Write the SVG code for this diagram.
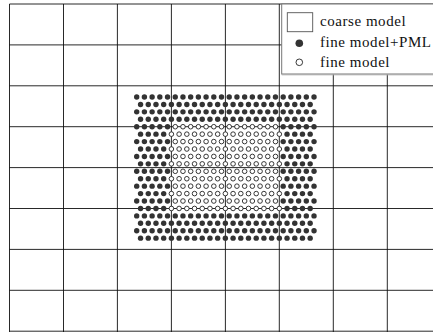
<svg xmlns="http://www.w3.org/2000/svg" xmlns:xlink="http://www.w3.org/1999/xlink" width="433" height="332" viewBox="0 0 433 332">
<style>
.g{stroke:#111;stroke-width:0.9;fill:none}
.f{fill:#333}
.o{fill:#fff;stroke:#222;stroke-width:0.9}
.t{font-family:"Liberation Serif","Times New Roman",serif;font-size:15px;letter-spacing:0.55px;fill:#111}
</style>
<defs>
<g id="evenFull">
<circle class="f" r="2.7" cx="136.70"/><circle class="f" r="2.7" cx="144.41"/><circle class="f" r="2.7" cx="152.12"/><circle class="f" r="2.7" cx="159.83"/><circle class="f" r="2.7" cx="167.54"/><circle class="f" r="2.7" cx="175.25"/><circle class="f" r="2.7" cx="182.96"/><circle class="f" r="2.7" cx="190.67"/><circle class="f" r="2.7" cx="198.38"/><circle class="f" r="2.7" cx="206.09"/><circle class="f" r="2.7" cx="213.80"/><circle class="f" r="2.7" cx="221.51"/><circle class="f" r="2.7" cx="229.22"/><circle class="f" r="2.7" cx="236.93"/><circle class="f" r="2.7" cx="244.64"/><circle class="f" r="2.7" cx="252.35"/><circle class="f" r="2.7" cx="260.06"/><circle class="f" r="2.7" cx="267.77"/><circle class="f" r="2.7" cx="275.48"/><circle class="f" r="2.7" cx="283.19"/><circle class="f" r="2.7" cx="290.90"/><circle class="f" r="2.7" cx="298.61"/><circle class="f" r="2.7" cx="306.32"/><circle class="f" r="2.7" cx="314.03"/>
</g>
<g id="oddFull">
<circle class="f" r="2.7" cx="140.56"/><circle class="f" r="2.7" cx="148.27"/><circle class="f" r="2.7" cx="155.98"/><circle class="f" r="2.7" cx="163.69"/><circle class="f" r="2.7" cx="171.40"/><circle class="f" r="2.7" cx="179.11"/><circle class="f" r="2.7" cx="186.82"/><circle class="f" r="2.7" cx="194.53"/><circle class="f" r="2.7" cx="202.24"/><circle class="f" r="2.7" cx="209.95"/><circle class="f" r="2.7" cx="217.66"/><circle class="f" r="2.7" cx="225.37"/><circle class="f" r="2.7" cx="233.08"/><circle class="f" r="2.7" cx="240.79"/><circle class="f" r="2.7" cx="248.50"/><circle class="f" r="2.7" cx="256.21"/><circle class="f" r="2.7" cx="263.92"/><circle class="f" r="2.7" cx="271.63"/><circle class="f" r="2.7" cx="279.34"/><circle class="f" r="2.7" cx="287.05"/><circle class="f" r="2.7" cx="294.76"/><circle class="f" r="2.7" cx="302.47"/><circle class="f" r="2.7" cx="310.18"/>
</g>
<g id="evenMixed">
<circle class="f" r="2.7" cx="136.70"/><circle class="f" r="2.7" cx="144.41"/><circle class="f" r="2.7" cx="152.12"/><circle class="f" r="2.7" cx="159.83"/><circle class="f" r="2.7" cx="167.54"/><circle class="o" r="2.3" cx="175.25"/><circle class="o" r="2.3" cx="182.96"/><circle class="o" r="2.3" cx="190.67"/><circle class="o" r="2.3" cx="198.38"/><circle class="o" r="2.3" cx="206.09"/><circle class="o" r="2.3" cx="213.80"/><circle class="o" r="2.3" cx="221.51"/><circle class="o" r="2.3" cx="229.22"/><circle class="o" r="2.3" cx="236.93"/><circle class="o" r="2.3" cx="244.64"/><circle class="o" r="2.3" cx="252.35"/><circle class="o" r="2.3" cx="260.06"/><circle class="o" r="2.3" cx="267.77"/><circle class="o" r="2.3" cx="275.48"/><circle class="f" r="2.7" cx="283.19"/><circle class="f" r="2.7" cx="290.90"/><circle class="f" r="2.7" cx="298.61"/><circle class="f" r="2.7" cx="306.32"/><circle class="f" r="2.7" cx="314.03"/>
</g>
<g id="oddMixed">
<circle class="f" r="2.7" cx="140.56"/><circle class="f" r="2.7" cx="148.27"/><circle class="f" r="2.7" cx="155.98"/><circle class="f" r="2.7" cx="163.69"/><circle class="o" r="2.3" cx="171.40"/><circle class="o" r="2.3" cx="179.11"/><circle class="o" r="2.3" cx="186.82"/><circle class="o" r="2.3" cx="194.53"/><circle class="o" r="2.3" cx="202.24"/><circle class="o" r="2.3" cx="209.95"/><circle class="o" r="2.3" cx="217.66"/><circle class="o" r="2.3" cx="225.37"/><circle class="o" r="2.3" cx="233.08"/><circle class="o" r="2.3" cx="240.79"/><circle class="o" r="2.3" cx="248.50"/><circle class="o" r="2.3" cx="256.21"/><circle class="o" r="2.3" cx="263.92"/><circle class="o" r="2.3" cx="271.63"/><circle class="o" r="2.3" cx="279.34"/><circle class="f" r="2.7" cx="287.05"/><circle class="f" r="2.7" cx="294.76"/><circle class="f" r="2.7" cx="302.47"/><circle class="f" r="2.7" cx="310.18"/>
</g>
</defs>
<rect width="433" height="332" fill="#fff"/>
<g id="grid">
<path class="g" d="M9.5 4V332M63.5 4V332M117.4 4V332M171.4 4V332M225.4 4V332M279.3 4V332M333.3 4V332M387.3 4V332"/>
<path class="g" d="M9.5 4H433M9.5 44.9H433M9.5 85.8H433M9.5 126.7H433M9.5 167.6H433M9.5 208.5H433M9.5 249.4H433M9.5 290.3H433M9.5 331.2H433"/>
</g>
<g id="dots">
<use href="#evenFull" y="97.00"/>
<use href="#oddFull" y="104.43"/>
<use href="#evenFull" y="111.86"/>
<use href="#oddFull" y="119.29"/>
<use href="#evenMixed" y="126.72"/>
<use href="#oddMixed" y="134.15"/>
<use href="#evenMixed" y="141.58"/>
<use href="#oddMixed" y="149.01"/>
<use href="#evenMixed" y="156.44"/>
<use href="#oddMixed" y="163.87"/>
<use href="#evenMixed" y="171.30"/>
<use href="#oddMixed" y="178.73"/>
<use href="#evenMixed" y="186.16"/>
<use href="#oddMixed" y="193.59"/>
<use href="#evenMixed" y="201.02"/>
<use href="#oddMixed" y="208.45"/>
<use href="#evenFull" y="215.88"/>
<use href="#oddFull" y="223.31"/>
<use href="#evenFull" y="230.74"/>
<use href="#oddFull" y="238.17"/>
</g>
<g id="legend">
<rect x="281.7" y="4" width="160" height="70" fill="#fff" stroke="#777" stroke-width="1"/>
<line x1="281.7" y1="74.8" x2="433" y2="74.8" stroke="#aaa" stroke-width="1"/>
<rect x="287.3" y="12.7" width="25.4" height="19" fill="#fff" stroke="#555" stroke-width="0.9"/>
<text class="t" x="320" y="26">coarse model</text>
<circle cx="299.3" cy="43.3" r="3.8" fill="#333"/>
<text class="t" x="320" y="46.7">fine model+PML</text>
<circle cx="299.3" cy="62.3" r="3.3" fill="#fff" stroke="#222" stroke-width="0.9"/>
<text class="t" x="320" y="66.7">fine model</text>
</g>
</svg>
